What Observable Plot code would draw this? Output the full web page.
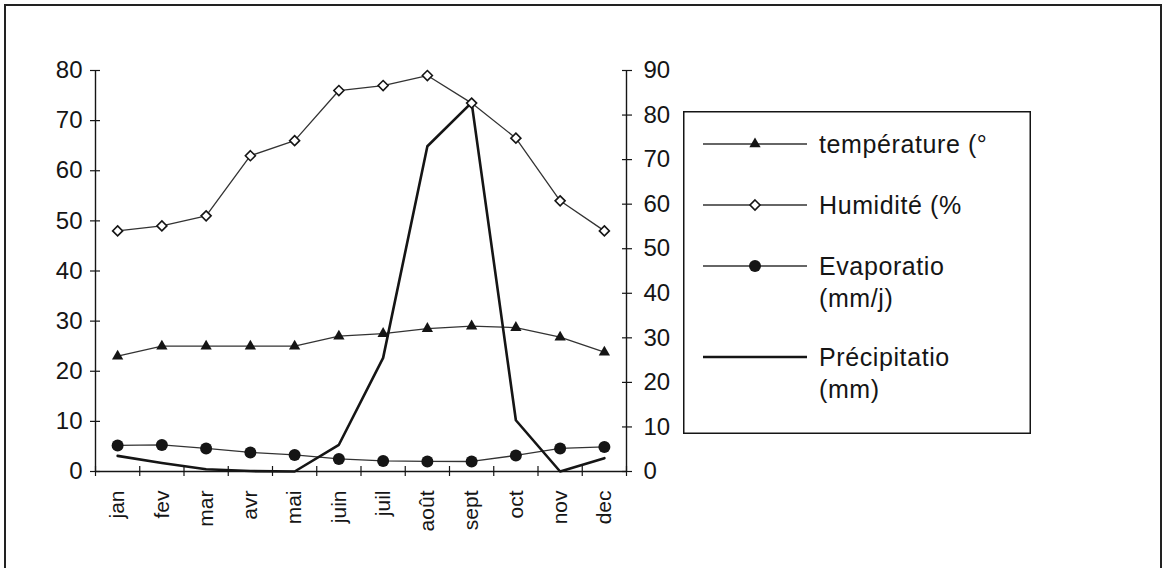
<!DOCTYPE html>
<html><head><meta charset="utf-8">
<script src="https://cdn.jsdelivr.net/npm/d3@7"></script>
<script src="https://cdn.jsdelivr.net/npm/@observablehq/plot@0.6"></script>
<style>
html,body{margin:0;padding:0;background:#fff;}
#wrap{position:relative;width:1166px;height:568px;overflow:hidden;font-family:'Liberation Sans',Arial,sans-serif;}
#frame{position:absolute;left:4px;top:4px;width:1158px;height:580px;border:2px solid #222;box-sizing:border-box;}
#chart{position:absolute;left:0;top:0;}
#legend{position:absolute;left:683px;top:111px;}
</style></head><body>
<div id="wrap"><div id="chart"></div><div id="frame"></div><div id="legend"></div></div>
<script>
const months = ["jan","fev","mar","avr","mai","juin","juil","août","sept","oct","nov","dec"];
const temperature = [23, 25, 25, 25, 25, 27, 27.5, 28.5, 29, 28.7, 26.8, 23.8];
const humidite = [48, 49, 51, 63, 66, 76, 77, 79, 73.5, 66.5, 54, 48];
const evaporation = [5.2, 5.3, 4.6, 3.8, 3.3, 2.5, 2.1, 2.0, 2.0, 3.2, 4.6, 4.9];
const precipitation = [3.5, 1.9, 0.5, 0.1, 0, 6, 25.5, 73, 82.8, 11.5, 0, 3];
const leftTicks = [0, 10, 20, 30, 40, 50, 60, 70, 80];
const rightTicks = [0, 10, 20, 30, 40, 50, 60, 70, 80, 90];
const legendLabels = [["température (°"], ["Humidité (%"], ["Evaporatio", "(mm/j)"], ["Précipitatio", "(mm)"]];

const k = 80 / 90; // right axis (0-90) to left axis (0-80)
const data = months.map((m, i) => ({i, m, t: temperature[i], h: humidite[i], e: evaporation[i], p: precipitation[i] * k}));
const ink = "#151515";

const chart = Plot.plot({
  width: 1166, height: 568,
  marginLeft: 95, marginRight: 540, marginTop: 70, marginBottom: 97,
  style: {fontFamily: "'Liberation Sans', Arial, sans-serif", background: "transparent", color: ink, overflow: "visible"},
  x: {domain: [-0.5, 11.5], label: null},
  y: {domain: [0, 80], label: null},
  marks: [
    Plot.ruleX([-0.5, 11.5], {stroke: ink, strokeWidth: 1.4}),
    Plot.ruleY([0], {stroke: ink, strokeWidth: 1.4}),
    Plot.axisY({ticks: leftTicks, tickSize: 10, dx: 5, tickPadding: 8, fontSize: 24, tickFormat: d => d, label: null, stroke: ink, strokeWidth: 1.2}),
    Plot.axisY({anchor: "right", ticks: rightTicks.map(v => v * k), tickFormat: d => Math.round(d / k), tickSize: 10, dx: -5, tickPadding: 12, fontSize: 24, label: null, stroke: ink, strokeWidth: 1.2}),
    Plot.axisX({ticks: d3.range(-0.5, 12, 1), tickSize: 10, dy: -5, tickFormat: () => "", label: null, stroke: ink, strokeWidth: 1.2}),
    Plot.axisX({ticks: d3.range(0, 12), tickSize: 0, tickRotate: -90, tickPadding: 19, tickFormat: i => months[i], fontSize: 21, label: null}),
    Plot.line(data, {x: "i", y: "h", stroke: "#333", strokeWidth: 1.3}),
    Plot.line(data, {x: "i", y: "t", stroke: "#333", strokeWidth: 1.3}),
    Plot.line(data, {x: "i", y: "e", stroke: "#333", strokeWidth: 1.3}),
    Plot.line(data, {x: "i", y: "p", stroke: ink, strokeWidth: 2.6}),
    Plot.dot(data, {x: "i", y: "h", symbol: "diamond2", r: 4.5, fill: "white", stroke: ink, strokeWidth: 1.6}),
    Plot.dot(data, {x: "i", y: "t", symbol: "triangle", r: 4.2, fill: ink, stroke: "none"}),
    Plot.dot(data, {x: "i", y: "e", r: 6, fill: ink, stroke: "none"})
  ]
});
document.getElementById("chart").appendChild(chart);

// legend
const W = 348, H = 323;
const lg = d3.select("#legend").append("svg").attr("width", W).attr("height", H);
lg.append("rect").attr("x", 0.75).attr("y", 0.75).attr("width", W - 1.5).attr("height", H - 1.5)
  .attr("fill", "white").attr("stroke", ink).attr("stroke-width", 1.5);
const rows = [33, 94, 155, 246];
const syms = [
  {type: d3.symbolTriangle, r: 4.2, fill: ink, stroke: "none", sw: 1.3},
  {type: d3.symbolDiamond2, r: 4.5, fill: "white", stroke: ink, sw: 1.3},
  {type: d3.symbolCircle, r: 6, fill: ink, stroke: "none", sw: 1.3},
  {type: null, sw: 2.6}
];
rows.forEach((y, j) => {
  const s = syms[j];
  lg.append("line").attr("x1", 20).attr("x2", 124).attr("y1", y).attr("y2", y)
    .attr("stroke", j === 3 ? ink : "#333").attr("stroke-width", s.sw);
  if (s.type) {
    lg.append("path").attr("transform", `translate(72,${y})`)
      .attr("d", d3.symbol(s.type, Math.PI * s.r * s.r)())
      .attr("fill", s.fill).attr("stroke", s.stroke).attr("stroke-width", 1.6);
  }
  legendLabels[j].forEach((t, li) => {
    lg.append("text").attr("x", 136).attr("y", y + li * 32).attr("dy", "0.35em")
      .attr("font-size", 25).attr("fill", ink).attr("letter-spacing", "0.6px")
      .attr("font-family", "'Liberation Sans', Arial, sans-serif").text(t);
  });
});
</script>
</body></html>
